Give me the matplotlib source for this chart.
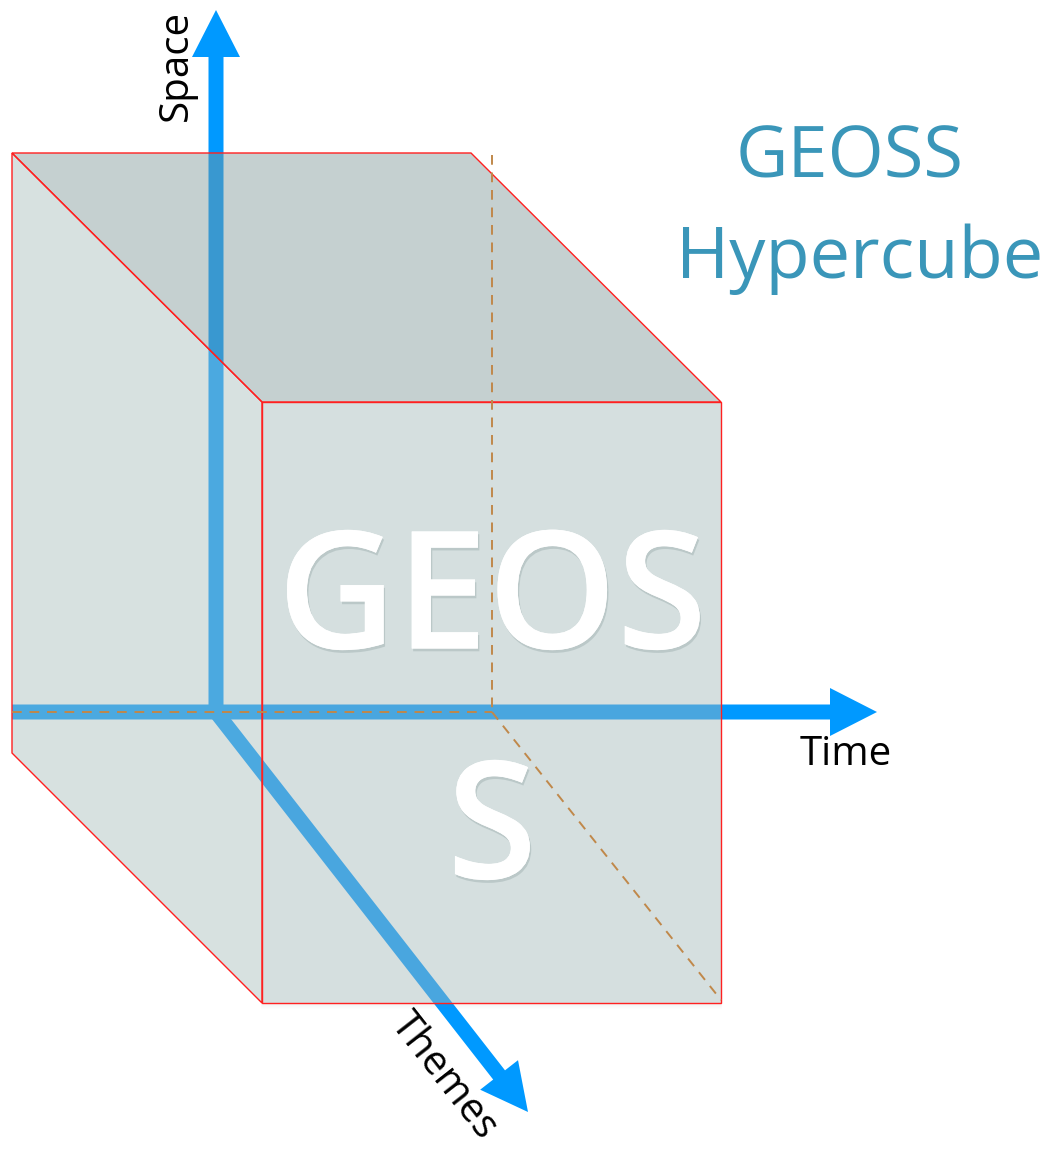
import matplotlib
matplotlib.use("Agg")
import matplotlib.pyplot as plt
from matplotlib.patches import Polygon, FancyArrow
import matplotlib.patheffects as pe

plt.rcParams['font.family'] = ['Open Sans', 'DejaVu Sans']

# cube geometry (pixel space of the reference picture)
top_face = [(12, 153), (471, 153), (721, 402), (262, 402)]
left_face = [(12, 153), (262, 402), (262, 1003), (12, 753)]
front_face = [(262, 402), (721, 402), (721, 1003), (262, 1003)]
face_colors = ['#7f9898', '#a8bdbb', '#a3b8b8']

# hidden edges (dashed)
hidden_x = [[492, 492], [12, 492], [492, 721]]
hidden_y = [[155, 712], [712, 712], [712, 1000]]

# axes arrows: start, end
arrow_start = [(216, 712), (12, 712), (216, 712)]
arrow_end = [(216, 10), (877, 712), (528, 1112)]

axis_labels = ['Space', 'Time', 'Themes']
label_pos = [(177, 65), (846, 755), (443, 1076)]
label_rot = [90, 0, -52]

fig = plt.figure(figsize=(10.53, 11.49), dpi=100)
ax = fig.add_axes([0, 0, 1, 1])
ax.set_xlim(0, 1053)
ax.set_ylim(1149, 0)
ax.set_aspect('equal')
ax.axis('off')

# arrows first, the cube is translucent over them
for (x0, y0), (x1, y1) in zip(arrow_start, arrow_end):
    ax.add_patch(FancyArrow(x0, y0, x1 - x0, y1 - y0, width=15, head_width=48,
                            head_length=47, length_includes_head=True,
                            color='#0099ff', lw=0, zorder=1))

# soft shadow under the cube
for i in range(1, 7):
    ax.plot([262, 721], [1003 + i, 1003 + i], color='gray', alpha=0.05 * (7 - i) / 6,
            lw=1.2, zorder=1.5)

for pts, c in zip([top_face, left_face, front_face], face_colors):
    ax.add_patch(Polygon(pts, closed=True, facecolor=c, alpha=0.45, edgecolor='none', zorder=2))
    ax.add_patch(Polygon(pts, closed=True, facecolor='none', edgecolor='#ff2020', lw=1, zorder=3))

for xs, ys in zip(hidden_x, hidden_y):
    ax.plot(xs, ys, color='#c0884a', lw=1.4, ls=(0, (5, 4)), zorder=4)

for t, (x, y), r in zip(axis_labels, label_pos, label_rot):
    ax.text(x, y, t, fontsize=29, rotation=r, ha='center', va='center',
            color='black', rotation_mode='anchor', zorder=5)

shadow = [pe.withSimplePatchShadow(offset=(1, -2), shadow_rgbFace='#7f9595', alpha=0.3),
          pe.Normal()]
ax.text(492, 606, 'GEOS', fontsize=118, color='white', ha='center', va='center',
        fontweight='semibold', zorder=5, path_effects=shadow)
ax.text(492, 836, 'S', fontsize=118, color='white', ha='center', va='center',
        fontweight='semibold', zorder=5, path_effects=shadow)

ax.text(850, 159, 'GEOSS', fontsize=52, color='#3a96b9', ha='center', va='center')
ax.text(860, 259, 'Hypercube', fontsize=52, color='#3a96b9', ha='center', va='center')

fig.savefig('out.png', dpi=100)
